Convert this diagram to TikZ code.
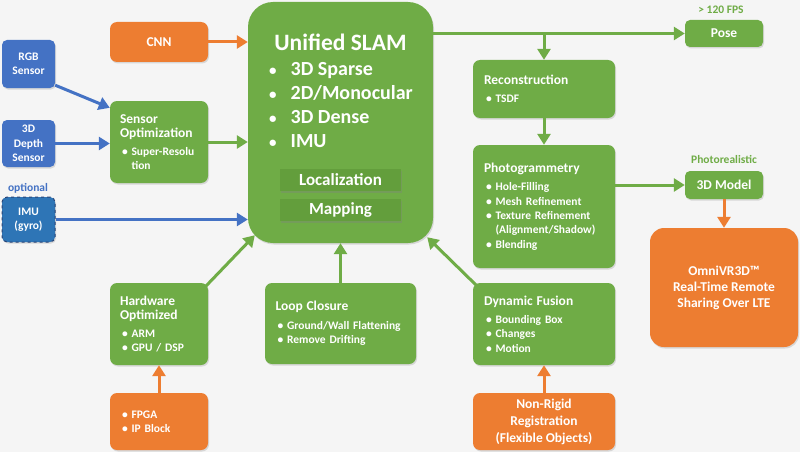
\documentclass[tikz,border=0pt]{standalone}
\usepackage{fontspec}
\setmainfont{Carlito}
\usetikzlibrary{arrows.meta,shadows}

\definecolor{slamgreen}{HTML}{6FAC46}
\definecolor{bargreen}{HTML}{639E3C}
\definecolor{boxorange}{HTML}{ED7D31}
\definecolor{boxblue}{HTML}{4472C4}
\definecolor{imublue}{HTML}{2E75B6}

\newcommand{\boxtitle}[1]{{\fontsize{13.5}{16}\selectfont #1}}
\newcommand{\bitem}{\hspace*{2pt}\textbullet\ }
\newcommand{\bcont}{\hspace*{2pt}\phantom{\textbullet\ }}
\newcommand{\slamdot}{{\fontsize{15}{18}\selectfont\textbullet}\hspace{14pt}}

\begin{document}
\begin{tikzpicture}[
		x=1pt, y=-1pt,
		>={Triangle[width=13pt,length=11pt]},
		block/.style={rounded corners=7pt, text=white, inner sep=0pt,
			font=\bfseries\fontsize{11.5}{14.3}\selectfont,
			drop shadow={opacity=.25, shadow xshift=1pt, shadow yshift=-1.5pt}},
		greenbox/.style={block, fill=slamgreen},
		orangebox/.style={block, fill=boxorange},
		bluebox/.style={block, fill=boxblue, align=center, rounded corners=5pt},
		listbox/.style={align=left, text width=#1},
		bar/.style={fill=bargreen, text=white, inner sep=0pt, minimum width=121pt, minimum height=22pt,
			font=\bfseries\fontsize{17}{20}\selectfont,
			drop shadow={opacity=.35, shadow xshift=1pt, shadow yshift=-1.5pt}},
		note/.style={font=\bfseries\fontsize{11.5}{14}\selectfont},
		wire/.style={->, line width=3pt},
	]
	\fill[black!4] (0,0) rectangle (800,452);
	\useasboundingbox (0,0) rectangle (800,452);

	% inputs
	\node[orangebox, minimum width=98pt, minimum height=40pt, font=\bfseries\fontsize{13.5}{16}\selectfont] (cnn) at (159,42) {CNN};
	\node[bluebox, minimum width=53pt, minimum height=48pt] (rgb) at (28.5,64) {RGB\\Sensor};
	\node[bluebox, minimum width=53pt, minimum height=47pt] (depth) at (28.5,143.5) {3D\\Depth\\Sensor};
	\node[note, text=boxblue] (optional) at (28,188) {optional};
	\node[bluebox, fill=imublue, draw=boxblue!60!black, dashed, line width=1pt, minimum width=53pt, minimum height=45pt] (imu) at (28.5,219.5) {IMU\\(gyro)};
	\node[greenbox, minimum width=98pt, minimum height=82pt, listbox=78pt] (sensopt) at (159,142)
		{\boxtitle{Sensor\\Optimization}\\[3pt]\bitem Super-Resolu\\\bcont tion};

	% core
	\node[greenbox, rounded corners=25pt, minimum width=185pt, minimum height=241pt] (slam) at (340.5,122.5) {};
	\node[text=white, font=\bfseries\fontsize{23.5}{28}\selectfont] (slamtitle) at (340.5,42) {Unified SLAM};
	\node[text=white, anchor=west, align=left, inner sep=0pt, font=\bfseries\fontsize{20}{24}\selectfont] (slamlist) at (269,105)
		{\slamdot 3D Sparse\\\slamdot 2D/Monocular\\\slamdot 3D Dense\\\slamdot IMU};
	\node[bar] (loc) at (340.5,180) {Localization};
	\node[bar] (map) at (340.5,210) {Mapping};

	% outputs
	\node[greenbox, minimum width=78pt, minimum height=27pt, rounded corners=5pt, font=\bfseries\fontsize{13.5}{16}\selectfont] (pose) at (724,33.5) {Pose};
	\node[note, text=slamgreen] (fps) at (721,10) {> 120 FPS};
	\node[greenbox, minimum width=142pt, minimum height=58pt, listbox=120pt] (recon) at (544,89)
		{\boxtitle{Reconstruction}\\[4pt]\bitem TSDF};
	\node[greenbox, minimum width=142pt, minimum height=123pt, listbox=120pt] (photo) at (544,206.5)
		{\boxtitle{Photogrammetry}\\[4pt]\bitem Hole-Filling\\\bitem Mesh Refinement\\\bitem Texture Refinement\\\bcont(Alignment/Shadow)\\\bitem Blending};
	\node[note, text=slamgreen] (photoreal) at (724,159) {Photorealistic};
	\node[greenbox, minimum width=78pt, minimum height=28pt, rounded corners=5pt, font=\bfseries\fontsize{13.5}{16}\selectfont] (model) at (724,185) {3D Model};
	\node[orangebox, rounded corners=14pt, minimum width=148pt, minimum height=119pt, align=center, font=\bfseries\fontsize{13.5}{16}\selectfont] (omni) at (724,287.5)
		{OmniVR3D\texttrademark\\Real-Time Remote\\Sharing Over LTE};

	% support
	\node[greenbox, minimum width=98pt, minimum height=82pt, listbox=78pt] (hw) at (159,324)
		{\boxtitle{Hardware\\Optimized}\\[3pt]\bitem ARM\\\bitem GPU / DSP};
	\node[orangebox, minimum width=98pt, minimum height=57pt, listbox=78pt] (fpga) at (159,421.5)
		{\bitem FPGA\\\bitem IP Block};
	\node[greenbox, minimum width=151pt, minimum height=81pt, listbox=130pt] (loop) at (340.5,323.5)
		{\boxtitle{Loop Closure}\\[4pt]\bitem Ground/Wall Flattening\\\bitem Remove Drifting};
	\node[greenbox, minimum width=142pt, minimum height=82pt, listbox=120pt] (dyn) at (544,324)
		{\boxtitle{Dynamic Fusion}\\[4pt]\bitem Bounding Box\\\bitem Changes\\\bitem Motion};
	\node[orangebox, minimum width=142pt, minimum height=57pt, align=center, font=\bfseries\fontsize{13.5}{17}\selectfont] (nonrigid) at (544,421.5)
		{Non-Rigid\\Registration\\(Flexible Objects)};

	\coordinate (split) at (recon.north |- pose);

	% connectors
	\draw[wire, boxorange] (cnn) -- (cnn -| slam.west);
	\draw[wire, boxblue] ([yshift=3pt]rgb.south east) -- ([yshift=-7pt]sensopt.north west);
	\draw[wire, boxblue] (depth) -- (depth -| sensopt.west);
	\draw[wire, slamgreen] (sensopt) -- (sensopt -| slam.west);
	\draw[wire, boxblue] (imu) -- (imu -| slam.west);
	\draw[wire, slamgreen] ([xshift=-2pt,yshift=-3pt]hw.north east) -- ([xshift=7pt,yshift=8pt]slam.south west);
	\draw[wire, slamgreen] (loop) -- (slam);
	\draw[wire, slamgreen] ([xshift=3pt,yshift=-2pt]dyn.north west) -- ([xshift=-6pt,yshift=6pt]slam.south east);
	\draw[wire, slamgreen] (slam.east |- pose) -- (pose);
	\draw[wire, slamgreen] (split) -- (recon);
	\draw[wire, slamgreen] (recon) -- (photo);
	\draw[wire, slamgreen] (photo.east |- model) -- (model);
	\draw[wire, boxorange] (model) -- (omni);
	\draw[wire, boxorange] (fpga) -- (hw);
	\draw[wire, boxorange] (nonrigid) -- (dyn);
\end{tikzpicture}
\end{document}
